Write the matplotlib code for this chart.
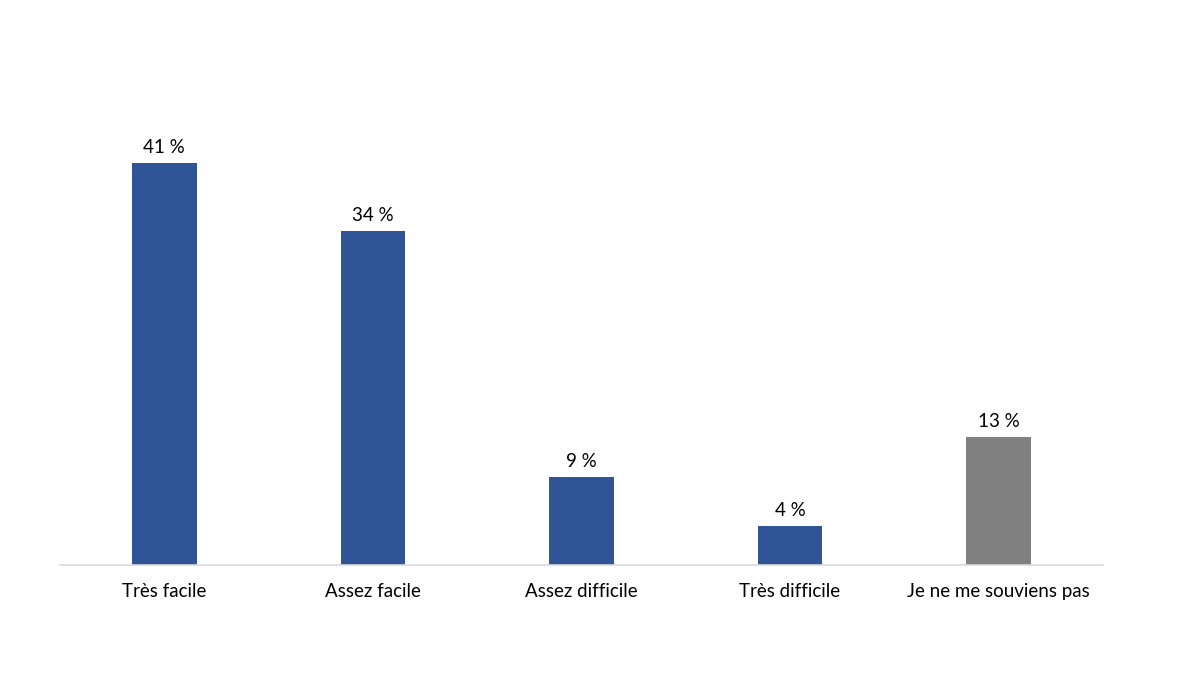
import matplotlib.pyplot as plt

plt.rcParams['font.family'] = ['Lato', 'DejaVu Sans']

categories = ['Très facile', 'Assez facile', 'Assez difficile', 'Très difficile',
              'Je ne me souviens pas']
values = [41, 34, 9, 4, 13]
colors = ['#2F5597', '#2F5597', '#2F5597', '#2F5597', '#808080']

fig = plt.figure(figsize=(12, 6.75), dpi=100)
ax = fig.add_axes([0.05, 0.163, 0.869, 0.647])

x = range(len(categories))
bars = ax.bar(x, values, width=0.31, color=colors)
for b, v in zip(bars, values):
    ax.annotate(f'{v} %', (b.get_x() + b.get_width() / 2, v),
                xytext=(0, 5), textcoords='offset points',
                ha='center', va='bottom', fontsize=13.5, color='#000000')

ax.set_xlim(-0.5, len(categories) - 0.5)
ax.set_ylim(0, 44.5)
ax.set_xticks(list(x))
ax.set_xticklabels(categories, fontsize=13.5)
ax.tick_params(axis='x', length=0, pad=13)
ax.set_yticks([])
for s in ['top', 'right', 'left']:
    ax.spines[s].set_visible(False)
ax.spines['bottom'].set_color('#D9D9D9')
ax.spines['bottom'].set_linewidth(1.2)

fig.savefig('out.png', dpi=100)
